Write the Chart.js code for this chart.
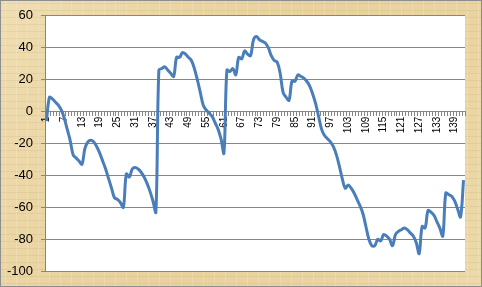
<!DOCTYPE html>
<html>
<head>
<meta charset="utf-8">
<script src="https://cdn.jsdelivr.net/npm/chart.js@4/dist/chart.umd.min.js"></script>
<style>
  html, body { margin: 0; padding: 0; background: #fff; }
  #wrap { width: 482px; height: 287px; }
</style>
</head>
<body>
<div id="wrap"><canvas id="chart" width="482" height="287"></canvas></div>
<script>
// categorias 1..142 (rotulo a cada 6)
var categorias = [];
for (var i = 1; i <= 142; i++) categorias.push(String(i));

// valores
var valores = [
  -6, 9, 8, 6, 4, 1, -4, -11, -18, -27,
  -29, -31, -33, -23, -19, -18, -19, -22, -26, -31,
  -36, -42, -48, -54, -55, -57, -60, -39, -41, -36,
  -35, -36, -38, -41, -45, -50, -56, -63, 26, 27,
  28, 26, 24, 22, 34, 34, 37, 36, 34, 32,
  27, 20, 12, 4, 1, -1, -3, -7, -11, -17,
  -26, 26, 25, 27, 23, 34, 33, 38, 36, 35,
  45, 47, 45, 44, 43, 40, 35, 32, 31, 24,
  12, 9, 7, 19, 19, 23, 22, 21, 19, 16,
  11, 5, -3, -11, -15, -17, -19, -22, -27, -34,
  -42, -48, -46, -48, -51, -55, -59, -64, -72, -80,
  -84, -84, -80, -81, -77, -78, -80, -84, -77, -75,
  -74, -73, -74, -76, -78, -82, -89, -72, -73, -62,
  -63, -65, -69, -73, -78, -51, -52, -53, -56, -61,
  -66, -43
];

var yMin = -100, yMax = 60, yPasso = 20;

// fundo tipo pergaminho + area do grafico branca
var fundo = {
  id: 'fundo',
  beforeDraw: function(chart) {
    var ctx = chart.ctx, w = chart.width, h = chart.height, a = chart.chartArea;
    ctx.save();
    ctx.fillStyle = '#E9D3A0';
    ctx.fillRect(0, 0, w, h);
    var g = ctx.createLinearGradient(0, 0, w, h);
    g.addColorStop(0, 'rgba(245,232,196,0.55)');
    g.addColorStop(0.5, 'rgba(230,205,150,0.2)');
    g.addColorStop(1, 'rgba(240,224,180,0.5)');
    ctx.fillStyle = g;
    ctx.fillRect(0, 0, w, h);
    // riscos leves da textura
    ctx.strokeStyle = 'rgba(190,160,100,0.18)';
    ctx.lineWidth = 1;
    for (var y = 3; y < h; y += 7) {
      ctx.beginPath();
      ctx.moveTo(0, y + 0.5);
      ctx.lineTo(w, y + 0.5);
      ctx.stroke();
    }
    ctx.strokeStyle = 'rgba(250,240,215,0.25)';
    for (var x = 5; x < w; x += 11) {
      ctx.beginPath();
      ctx.moveTo(x + 0.5, 0);
      ctx.lineTo(x + 0.5, h);
      ctx.stroke();
    }
    ctx.strokeStyle = '#8E8E8E';
    ctx.strokeRect(0.5, 0.5, w - 1, h - 1);
    ctx.fillStyle = '#FFFFFF';
    ctx.fillRect(a.left, a.top, a.right - a.left, a.bottom - a.top);
    ctx.restore();
  }
};

new Chart(document.getElementById('chart'), {
  type: 'line',
  data: {
    labels: categorias,
    datasets: [{
      data: valores,
      borderColor: '#4A7EBB',
      backgroundColor: '#4A7EBB',
      borderWidth: 3,
      pointRadius: 0,
      tension: 0.35,
      fill: false
    }]
  },
  options: {
    responsive: false,
    animation: false,
    layout: { padding: { left: 5, right: 17, top: 15, bottom: 14 } },
    plugins: { legend: { display: false }, tooltip: { enabled: false } },
    scales: {
      x: {
        position: { y: 0 },
        offset: true,
        grid: {
          display: true,
          drawOnChartArea: false,
          drawTicks: true,
          tickLength: 4,
          color: '#868686',
          offset: true
        },
        border: { display: true, color: '#868686', width: 1 },
        ticks: {
          autoSkip: false,
          minRotation: 90,
          maxRotation: 90,
          padding: 1,
          color: '#000',
          font: { family: 'Liberation Sans', size: 10 },
          callback: function(v, idx) {
            return idx % 6 === 0 ? categorias[idx] : '';
          }
        }
      },
      y: {
        min: yMin,
        max: yMax,
        afterFit: function(s) { s.width = 40; },
        grid: { color: '#868686', tickLength: 4, lineWidth: 1 },
        border: { display: true, color: '#868686' },
        ticks: {
          stepSize: yPasso,
          padding: 8,
          color: '#000',
          font: { family: 'Liberation Sans', size: 13 }
        }
      }
    }
  },
  plugins: [fundo]
});
</script>
</body>
</html>
